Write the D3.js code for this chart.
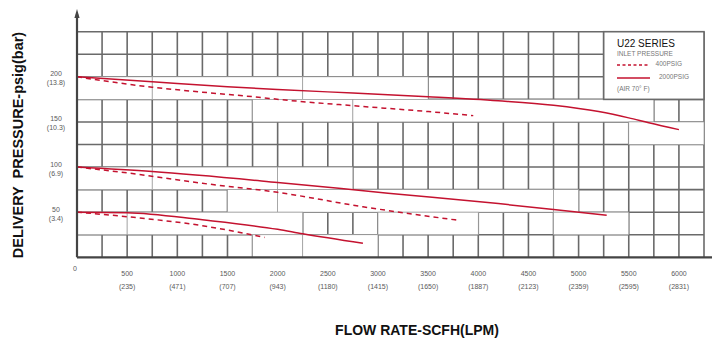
<!DOCTYPE html>
<html>
<head>
<meta charset="utf-8">
<script src="https://cdn.jsdelivr.net/npm/d3@7"></script>
<style>
  html, body { margin: 0; padding: 0; background: #fff; }
  svg { display: block; font-family: "Liberation Sans", Arial, sans-serif; }
</style>
</head>
<body>
<svg id="chart" width="712" height="339"></svg>
<script>
// flow axis ticks (SCFH) and LPM equivalents
const flowTicks = [500, 1000, 1500, 2000, 2500, 3000, 3500, 4000, 4500, 5000, 5500, 6000];
const lpmLabels = ['(235)', '(471)', '(707)', '(943)', '(1180)', '(1415)', '(1650)', '(1887)', '(2123)', '(2359)', '(2595)', '(2831)'];

// pressure axis ticks (psig) and bar equivalents
const psiTicks = [50, 100, 150, 200];
const barLabels = ['(3.4)', '(6.9)', '(10.3)', '(13.8)'];

// curves: [flow SCFH, delivery psig]
const solid200 = [[0, 200], [750, 194.5], [1500, 189], [2000, 186], [2750, 182], [3500, 178], [4200, 173.5], [4750, 168.5], [5200, 161.5], [5500, 154.5], [5700, 149], [6000, 141.5]];
const dashed200 = [[0, 200], [750, 188.5], [1250, 183], [1750, 178], [2100, 174], [2750, 168], [3500, 161.5], [3950, 157]];
const solid100 = [[0, 100], [750, 95], [2000, 83], [3100, 71], [4200, 59.5], [4750, 53], [5280, 46.5]];
const dashed100 = [[0, 100], [500, 93.5], [1250, 82], [2000, 72], [2850, 56], [3800, 41]];
const solid50 = [[0, 50], [500, 49.5], [1250, 41.5], [2000, 31], [2250, 26], [2850, 15.5]];
const dashed50 = [[0, 50], [500, 45], [1250, 35], [1870, 22]];

// erased grid cells from the scan: [flow from, flow to, psig from, psig to]
const clearedCells = [
  [0, 750, 175, 200], [750, 2250, 175, 200], [2250, 3500, 175, 200],
  [1750, 2750, 150, 175], [2750, 5750, 150, 175],
  [5500, 6250, 125, 150],
  [0, 750, 75, 100], [750, 2000, 75, 100], [2000, 2750, 75, 100],
  [1500, 2000, 50, 75], [2000, 4750, 50, 75], [4750, 5000, 50, 75],
  [0, 500, 25, 50], [500, 2250, 25, 50],
  [3000, 4000, 25, 50],
  [4750, 5500, 25, 50],
  [1750, 2250, 0, 25], [2250, 3000, 0, 25]
];

const svg = d3.select('#chart');
const red = '#c4122f';

const x = d3.scaleLinear().domain([0, 6250]).range([77, 704]);
const y = d3.scaleLinear().domain([0, 250]).range([257.3, 31.7]);

// grid
const grid = svg.append('g').attr('stroke', '#6a6a6a').attr('stroke-width', 1.6);
grid.selectAll('line.v')
  .data(d3.range(250, 6251, 250))
  .join('line')
  .attr('x1', d => x(d)).attr('x2', d => x(d))
  .attr('y1', y(250)).attr('y2', y(0));
grid.selectAll('line.h')
  .data(d3.range(25, 251, 25))
  .join('line')
  .attr('x1', x(0)).attr('x2', x(6250))
  .attr('y1', d => y(d)).attr('y2', d => y(d));

// white patches where the scan erased the grid
svg.append('g')
  .selectAll('rect')
  .data(clearedCells)
  .join('rect')
  .attr('x', d => x(d[0]))
  .attr('y', d => y(d[3]))
  .attr('width', d => x(d[1]) - x(d[0]))
  .attr('height', d => y(d[2]) - y(d[3]))
  .attr('fill', '#fff')
  .attr('stroke', '#9a9a9a')
  .attr('stroke-width', 0.7);

// legend box
const lg = svg.append('g');
lg.append('rect')
  .attr('x', x(5250)).attr('y', y(250))
  .attr('width', x(6250) - x(5250)).attr('height', y(175) - y(250))
  .attr('fill', '#fff').attr('stroke', '#6a6a6a').attr('stroke-width', 1.6);
lg.append('text').attr('x', 617).attr('y', 47)
  .attr('font-size', 10).attr('fill', '#111').text('U22 SERIES');
lg.append('text').attr('x', 617).attr('y', 56)
  .attr('font-size', 6.5).attr('fill', '#777').text('INLET PRESSURE');
lg.append('line').attr('x1', 617).attr('x2', 650).attr('y1', 65).attr('y2', 65)
  .attr('stroke', red).attr('stroke-width', 1.3).attr('stroke-dasharray', '3,2.5');
lg.append('text').attr('x', 682).attr('y', 66).attr('text-anchor', 'end')
  .attr('font-size', 6.5).attr('fill', '#777').text('400PSIG');
lg.append('line').attr('x1', 617).attr('x2', 650).attr('y1', 78).attr('y2', 78)
  .attr('stroke', red).attr('stroke-width', 1.3);
lg.append('text').attr('x', 689).attr('y', 79).attr('text-anchor', 'end')
  .attr('font-size', 6.5).attr('fill', '#777').text('2000PSIG');
lg.append('text').attr('x', 617).attr('y', 91)
  .attr('font-size', 6.5).attr('fill', '#777').text('(AIR 70° F)');

// curves
const line = d3.line()
  .x(d => x(d[0]))
  .y(d => y(d[1]))
  .curve(d3.curveMonotoneX);

const curves = [
  {pts: solid200, dashed: false}, {pts: dashed200, dashed: true},
  {pts: solid100, dashed: false}, {pts: dashed100, dashed: true},
  {pts: solid50, dashed: false}, {pts: dashed50, dashed: true}
];
svg.append('g')
  .selectAll('path')
  .data(curves)
  .join('path')
  .attr('d', d => line(d.pts))
  .attr('fill', 'none')
  .attr('stroke', red)
  .attr('stroke-width', 1.5)
  .attr('stroke-dasharray', d => d.dashed ? '5,4' : null);

// axes lines
svg.append('line')
  .attr('x1', x(0)).attr('x2', 712)
  .attr('y1', y(0)).attr('y2', y(0))
  .attr('stroke', '#444').attr('stroke-width', 2.2);
svg.append('line')
  .attr('x1', x(0)).attr('x2', x(0))
  .attr('y1', 14).attr('y2', y(0))
  .attr('stroke', '#444').attr('stroke-width', 2.2);
svg.append('path')
  .attr('d', `M${x(0)},9 L${x(0) - 2.6},18 L${x(0) + 2.6},18 Z`)
  .attr('fill', '#444');

// y tick labels
const yl = svg.append('g').attr('font-size', 7).attr('fill', '#5a5a5a').attr('text-anchor', 'middle');
yl.selectAll('text.psi')
  .data(psiTicks)
  .join('text')
  .attr('x', 56).attr('y', d => y(d) - 0.5)
  .text(d => d);
yl.selectAll('text.bar')
  .data(barLabels)
  .join('text')
  .attr('class', 'bar')
  .attr('x', 56).attr('y', (d, i) => y(psiTicks[i]) + 8.5)
  .text(d => d);
yl.append('text').attr('x', 75).attr('y', 271).text('0');

// x tick labels
const xl = svg.append('g').attr('font-size', 7).attr('fill', '#5a5a5a').attr('text-anchor', 'middle');
xl.selectAll('text.f')
  .data(flowTicks)
  .join('text')
  .attr('x', d => x(d)).attr('y', 276)
  .text(d => d);
xl.selectAll('text.l')
  .data(lpmLabels)
  .join('text')
  .attr('class', 'l')
  .attr('x', (d, i) => x(flowTicks[i])).attr('y', 289)
  .text(d => d);

// axis titles
svg.append('text')
  .attr('transform', 'translate(23,145) rotate(-90)')
  .attr('text-anchor', 'middle')
  .attr('font-size', 14.5).attr('font-weight', 'bold').attr('fill', '#111')
  .style('white-space', 'pre')
  .text('DELIVERY  PRESSURE-psig(bar)');
svg.append('text')
  .attr('x', 417).attr('y', 335)
  .attr('text-anchor', 'middle')
  .attr('font-size', 14).attr('font-weight', 'bold').attr('fill', '#111')
  .text('FLOW RATE-SCFH(LPM)');
</script>
</body>
</html>
